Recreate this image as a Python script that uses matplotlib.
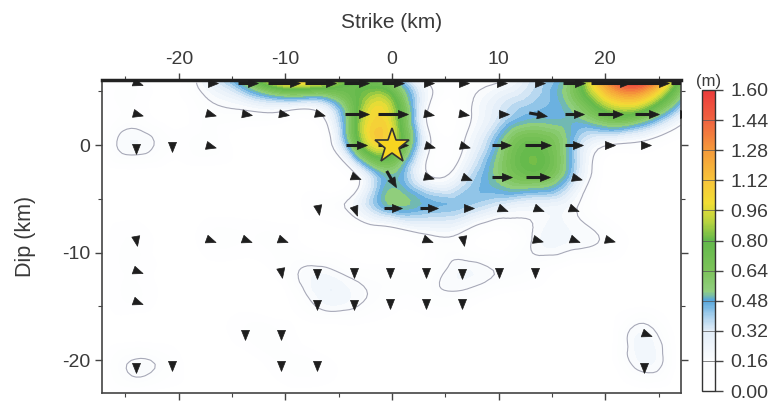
import numpy as np
import matplotlib
matplotlib.use('Agg')
import matplotlib.pyplot as plt
import matplotlib.tri as mtri
from matplotlib.colors import LinearSegmentedColormap, Normalize
from matplotlib.cm import ScalarMappable
from matplotlib.ticker import MultipleLocator
from matplotlib.markers import MarkerStyle
from matplotlib.path import Path
from matplotlib.transforms import Affine2D

plt.rcParams['font.family'] = ['Liberation Sans', 'DejaVu Sans']
plt.rcParams['axes.unicode_minus'] = False

# subfault centres (km)
strike = np.array([-24.0 + 3.4 * i for i in range(16)])
dip = np.array([5.8 - 2.91 * j for j in range(10)])

# slip (m) on each subfault, rows from top (shallow) to bottom
slip = np.array([
    [0.08, 0.00, 0.25, 0.55, 1.00, 0.98, 0.75, 0.60, 0.16, 0.06, 0.15, 0.35, 0.60, 1.30, 1.50, 0.70],
    [0.08, 0.00, 0.10, 0.12, 0.12, 0.12, 0.70, 0.95, 0.16, 0.08, 0.32, 0.45, 0.50, 0.75, 0.70, 0.30],
    [0.20, 0.08, 0.10, 0.00, 0.00, 0.00, 0.60, 0.95, 0.22, 0.14, 0.50, 0.75, 0.45, 0.15, 0.10, 0.00],
    [0.00, 0.00, 0.00, 0.00, 0.00, 0.00, 0.10, 0.50, 0.18, 0.28, 0.55, 0.70, 0.40, 0.00, 0.00, 0.00],
    [0.00, 0.00, 0.00, 0.00, 0.00, 0.08, 0.20, 0.48, 0.45, 0.40, 0.28, 0.22, 0.18, 0.00, 0.00, 0.00],
    [0.08, 0.00, 0.08, 0.08, 0.08, 0.00, 0.00, 0.00, 0.10, 0.10, 0.00, 0.17, 0.20, 0.12, 0.00, 0.00],
    [0.08, 0.00, 0.00, 0.00, 0.08, 0.18, 0.10, 0.08, 0.08, 0.20, 0.14, 0.10, 0.00, 0.00, 0.00, 0.00],
    [0.08, 0.00, 0.00, 0.00, 0.00, 0.18, 0.18, 0.08, 0.08, 0.08, 0.00, 0.00, 0.00, 0.00, 0.00, 0.00],
    [0.00, 0.00, 0.00, 0.08, 0.08, 0.00, 0.00, 0.00, 0.00, 0.00, 0.00, 0.00, 0.00, 0.00, 0.20, 0.00],
    [0.17, 0.08, 0.00, 0.00, 0.08, 0.08, 0.00, 0.00, 0.00, 0.00, 0.00, 0.00, 0.00, 0.00, 0.20, 0.00],
])

# slip direction on the plot (deg, 0 = along +strike, -90 = down dip)
direction = np.array([
    [-20, 0, 0, 0, 0, 0, 0, 0, 0, 0, 0, 0, 0, 0, 0, 0],
    [-15, 0, -15, -10, -10, -15, 0, 0, -10, -10, 0, -10, 0, 0, 0, 0],
    [-90, -90, -15, 0, 0, 0, 0, 0, -15, -15, 0, 0, 0, 0, 0, 0],
    [0, 0, 0, 0, 0, 0, -20, -60, -15, -20, 0, 0, -15, 0, 0, 0],
    [0, 0, 0, 0, 0, -80, -70, 0, 0, 0, -20, -20, -20, 0, 0, 0],
    [-80, 0, -20, -20, -20, 0, 0, 0, -20, -80, 0, -15, -20, -15, 0, 0],
    [-20, 0, 0, 0, -80, -90, -90, -90, -90, -90, -90, -90, 0, 0, 0, 0],
    [-20, 0, 0, 0, 0, -90, -90, -90, -90, -90, 0, 0, 0, 0, 0, 0],
    [0, 0, 0, -90, -90, 0, 0, 0, 0, 0, 0, 0, 0, 0, -20, 0],
    [-90, -90, 0, 0, -90, -90, 0, 0, 0, 0, 0, 0, 0, 0, -90, 0],
])

hypocenter = (0.0, -0.1)
cbar_ticks = np.arange(0, 1.61, 0.16)

cmap = LinearSegmentedColormap.from_list('slip', [
    (0.00, '#ffffff'), (0.10, '#fcfdfe'), (0.20, '#e2edf8'), (0.25, '#a6cfec'),
    (0.30, '#55a6dc'), (0.33, '#92cf80'), (0.40, '#7cc35a'), (0.50, '#62b84a'),
    (0.56, '#b5d340'), (0.625, '#f2de34'), (0.70, '#f7c43a'), (0.80, '#f59a3a'),
    (0.90, '#f06340'), (1.00, '#ec3b3b')])
cmap.set_under('white')

# solid arrow head (tip along +x)
head = Path([(1.0, 0.0), (-0.7, 0.68), (-0.7, -0.68), (1.0, 0.0)],
            [Path.MOVETO, Path.LINETO, Path.LINETO, Path.CLOSEPOLY])

fig = plt.figure(figsize=(7.79, 4.01), dpi=100)
ax = fig.add_axes([102 / 779, 1 - 393 / 401, 579 / 779, 313 / 401])
cax = fig.add_axes([702 / 779, 1 - 391 / 401, 13 / 779, 301 / 401])

# smooth slip surface; zero slip assumed just outside the left, right and
# bottom edges of the fault so contours close there
dx, dy = strike[1] - strike[0], dip[0] - dip[1]
sx = np.concatenate([[strike[0] - dx], strike, [strike[-1] + dx]])
sy = np.concatenate([dip, [dip[-1] - dy]])
sz = np.pad(slip, ((0, 1), (1, 1)))
X, Y = np.meshgrid(sx, sy)
tri = mtri.Triangulation(X.ravel(), Y.ravel())
refiner = mtri.UniformTriRefiner(tri)
tri_f, z_f = refiner.refine_field(sz.ravel(), subdiv=3)
ax.tricontourf(tri_f, z_f, levels=np.arange(0, 1.65, 0.04), cmap=cmap,
               vmin=0, vmax=1.6, extend='both')
ax.tricontour(tri_f, z_f, levels=[0.15], colors='#a7a9b8', linewidths=0.8)

# slip vectors: shaft + arrow head
scale = 2.4  # km per m
for j in range(len(dip)):
    for i in range(len(strike)):
        s = slip[j, i]
        if s <= 0:
            continue
        th = np.deg2rad(direction[j, i])
        L = s * scale
        x0, y0 = strike[i], dip[j]
        tx, ty = x0 + 0.5 * L * np.cos(th), y0 + 0.5 * L * np.sin(th)
        if s >= 0.45:
            ax.plot([x0 - 0.5 * L * np.cos(th), tx], [y0 - 0.5 * L * np.sin(th), ty],
                    color='#1e1e1e', lw=2.2, solid_capstyle='butt', zorder=4)
        mk = MarkerStyle(head, transform=Affine2D().rotate_deg(direction[j, i]))
        ax.plot(tx, ty, marker=mk, ms=8.5, color='#1e1e1e', mec='#1e1e1e',
                mew=0.5, ls='none', zorder=5)

ax.plot(*hypocenter, marker='*', ms=26, mfc='#f7d420', mec='#333333',
        mew=1.2, ls='none', zorder=6)

ax.set_xlim(-27.2, 27.1)
ax.set_ylim(-23.05, 6.05)
ax.xaxis.set_major_locator(MultipleLocator(10))
ax.xaxis.set_minor_locator(MultipleLocator(5))
ax.yaxis.set_major_locator(MultipleLocator(10))
ax.yaxis.set_minor_locator(MultipleLocator(5))
ax.tick_params(axis='x', which='both', top=True, bottom=True, labeltop=True,
               labelbottom=False, direction='out', colors='#444444')
ax.tick_params(axis='y', which='both', left=True, right=True, direction='out',
               colors='#444444')
ax.tick_params(which='major', length=5, width=1, labelsize=14, labelcolor='#3a3a3a')
ax.tick_params(which='minor', length=3, width=0.8)
ax.xaxis.set_label_position('top')
ax.set_xlabel('Strike (km)', fontsize=15, color='#3a3a3a', labelpad=17)
ax.set_ylabel('Dip (km)', fontsize=15.5, color='#3a3a3a', labelpad=19)
for sp in ax.spines.values():
    sp.set_color('#444444')
    sp.set_linewidth(1.2)
ax.spines['top'].set_color('#222222')
ax.spines['top'].set_linewidth(2.5)

sm = ScalarMappable(norm=Normalize(0, 1.6), cmap=cmap)
cb = fig.colorbar(sm, cax=cax, ticks=cbar_ticks, format='%.2f')
cb.outline.set_edgecolor('#333333')
cb.outline.set_linewidth(1.0)
for t in cbar_ticks:
    cax.axhline(t, color='#555555', lw=0.5)
cax.tick_params(direction='out', length=6, width=1, labelsize=14,
                colors='#444444', labelcolor='#3a3a3a', pad=5)
cax.set_title('(m)', fontsize=12, color='#3a3a3a', pad=3)

plt.savefig('out.png', dpi=100)
